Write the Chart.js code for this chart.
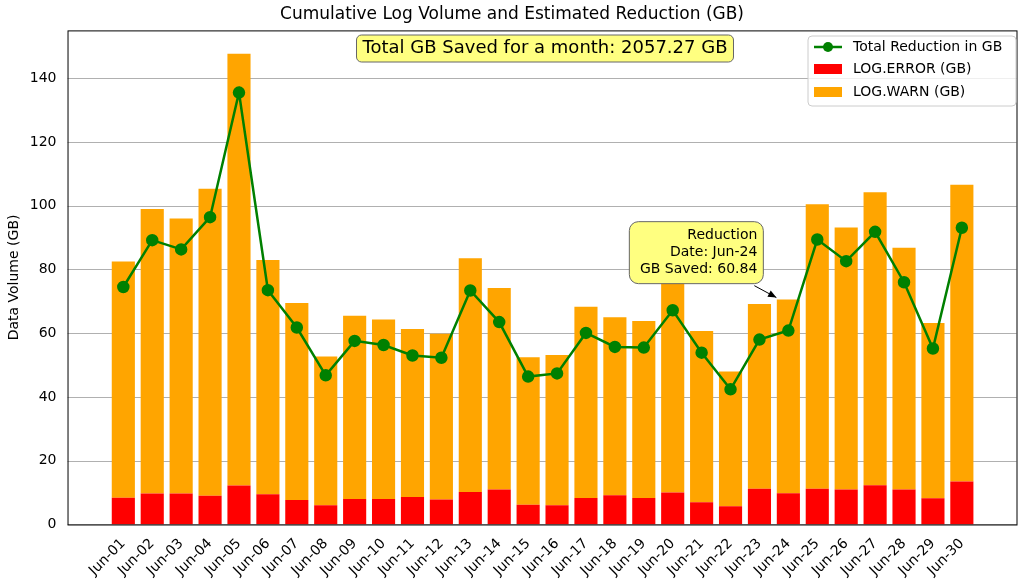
<!DOCTYPE html>
<html><head><meta charset="utf-8">
<script src="https://cdn.jsdelivr.net/npm/chart.js@4/dist/chart.umd.min.js"></script>
<style>html,body{margin:0;padding:0;background:#fff}#w{width:1024px;height:586px}</style>
</head><body><div id="w"><canvas id="c"></canvas></div>
<script>
const categories=['Jun-01','Jun-02','Jun-03','Jun-04','Jun-05','Jun-06','Jun-07','Jun-08','Jun-09','Jun-10','Jun-11','Jun-12','Jun-13','Jun-14','Jun-15','Jun-16','Jun-17','Jun-18','Jun-19','Jun-20','Jun-21','Jun-22','Jun-23','Jun-24','Jun-25','Jun-26','Jun-27','Jun-28','Jun-29','Jun-30'];
const errorGB=[8.4,9.7,9.7,9.0,12.2,9.5,7.7,6.0,8.0,8.0,8.6,7.8,10.2,11.0,6.2,6.0,8.3,9.2,8.3,10.0,7.0,5.7,11.2,9.8,11.2,11.0,12.3,11.0,8.2,13.5];
const totalGB=[82.5,99,96,105.3,147.7,83,69.5,52.7,65.5,64.3,61.3,59.8,83.5,74.2,52.5,53.2,68.3,65,63.8,80,60.7,48,69.2,70.6,100.5,93.2,104.2,86.8,63.2,106.6];
const warnGB=totalGB.map((t,i)=>+(t-errorGB[i]).toFixed(2));
const reductionGB=[74.5,89.2,86.3,96.4,135.5,73.5,61.8,46.8,57.6,56.3,53.0,52.3,73.4,63.5,46.4,47.4,60.1,55.7,55.5,67.2,53.9,42.4,58.0,60.84,89.4,82.6,91.8,76.0,55.2,93.1];
const yTicks=[0,20,40,60,80,100,120,140];
const F='DejaVu Sans';
const xy=a=>a.map((v,i)=>({x:i,y:v}));
const deco={id:'deco',
 beforeDatasetsDraw(ch){const c=ch.ctx,a=ch.chartArea,y=ch.scales.y;c.save();c.strokeStyle='#b0b0b0';c.lineWidth=1;
  yTicks.forEach(t=>{const p=Math.round(y.getPixelForValue(t))+0.5;c.beginPath();c.moveTo(a.left,p);c.lineTo(a.right,p);c.stroke();});c.restore();},
 afterDraw(ch){const c=ch.ctx,a=ch.chartArea,x=ch.scales.x,y=ch.scales.y;c.save();
  c.strokeStyle='#000';c.lineWidth=1;c.strokeRect(a.left+0.5,a.top+0.5,a.right-a.left,a.bottom-a.top);
  function rbox(x0,y0,w,h,r){c.beginPath();c.moveTo(x0+r,y0);c.arcTo(x0+w,y0,x0+w,y0+h,r);c.arcTo(x0+w,y0+h,x0,y0+h,r);c.arcTo(x0,y0+h,x0,y0,r);c.arcTo(x0,y0,x0+w,y0,r);c.closePath();}
  c.font='18px '+F;const t='Total GB Saved for a month: 2057.27 GB';const tw=c.measureText(t).width;
  const cx=545;rbox(cx-tw/2-6,35,tw+12,27,5);c.fillStyle='#ffff80';c.fill();c.strokeStyle='#666';c.stroke();
  c.fillStyle='#000';c.textAlign='center';c.textBaseline='middle';c.fillText(t,cx,48.5);
  const px=x.getPixelForValue(23),py=y.getPixelForValue(reductionGB[23]);
  const bx=x.getPixelForValue(17.5),by=y.getPixelForValue(95);
  rbox(bx,by,134,62,9);c.fillStyle='#ffff80';c.fill();c.strokeStyle='#666';c.stroke();
  c.fillStyle='#000';c.textAlign='right';c.font='14px '+F;
  ['Reduction','Date: Jun-24','GB Saved: 60.84'].forEach((s,i)=>c.fillText(s,bx+128,by+14+i*17));
  const sx=bx+125,sy=by+64,ax=px-12,ay=py-33;
  c.strokeStyle='#000';c.lineWidth=1;c.beginPath();c.moveTo(sx,sy);c.lineTo(ax,ay);c.stroke();
  const ang=Math.atan2(ay-sy,ax-sx);c.beginPath();c.moveTo(ax,ay);
  c.lineTo(ax-9*Math.cos(ang-0.4),ay-9*Math.sin(ang-0.4));c.lineTo(ax-9*Math.cos(ang+0.4),ay-9*Math.sin(ang+0.4));c.closePath();c.fillStyle='#000';c.fill();
  const lx=808,ly=36;rbox(lx,ly,208,70,4);c.fillStyle='rgba(255,255,255,0.8)';c.fill();c.strokeStyle='#ccc';c.stroke();
  c.font='14px '+F;c.textAlign='left';
  c.strokeStyle='green';c.lineWidth=2.5;c.beginPath();c.moveTo(814,47);c.lineTo(842,47);c.stroke();
  c.fillStyle='green';c.beginPath();c.arc(828,47,5,0,7);c.fill();
  c.fillStyle='#ff0000';c.fillRect(814,64,28,10);c.fillStyle='#ffa500';c.fillRect(814,87,28,10);
  c.fillStyle='#000';c.fillText('Total Reduction in GB',853,47);c.fillText('LOG.ERROR (GB)',853,69);c.fillText('LOG.WARN (GB)',853,92);
  c.restore();}};
new Chart(document.getElementById('c'),{type:'bar',
 data:{datasets:[
  {type:'line',label:'Total Reduction in GB',data:xy(reductionGB),borderColor:'green',backgroundColor:'green',borderWidth:2.5,pointRadius:5,pointBackgroundColor:'green',stack:'line',order:0},
  {label:'LOG.ERROR (GB)',data:xy(errorGB),backgroundColor:'#ff0000',stack:'s',barPercentage:0.8,categoryPercentage:1,order:2},
  {label:'LOG.WARN (GB)',data:xy(warnGB),backgroundColor:'#ffa500',stack:'s',barPercentage:0.8,categoryPercentage:1,order:2}]},
 options:{responsive:true,maintainAspectRatio:false,animation:false,
  layout:{padding:{right:2,top:0,bottom:4,left:2}},
  plugins:{legend:{display:false},tooltip:{enabled:false},
   title:{display:true,text:'Cumulative Log Volume and Estimated Reduction (GB)',font:{family:F,size:17,weight:'normal'},color:'#000',padding:{top:4,bottom:6}}},
  scales:{
   x:{type:'linear',offset:false,min:-1.93,max:30.89,stacked:true,grid:{display:false},border:{display:false},
    afterBuildTicks(s){s.ticks=categories.map((_,i)=>({value:i}));},
    ticks:{autoSkip:false,minRotation:45,maxRotation:45,color:'#000',font:{family:F,size:14},callback:v=>categories[v]}},
   y:{stacked:true,min:0,max:155,grid:{display:false},border:{display:false},
    afterBuildTicks(s){s.ticks=yTicks.map(v=>({value:v}));},
    title:{display:true,text:'Data Volume (GB)',color:'#000',font:{family:F,size:14}},
    ticks:{color:'#000',font:{family:F,size:14}}}}},
 plugins:[deco]});
</script></body></html>
